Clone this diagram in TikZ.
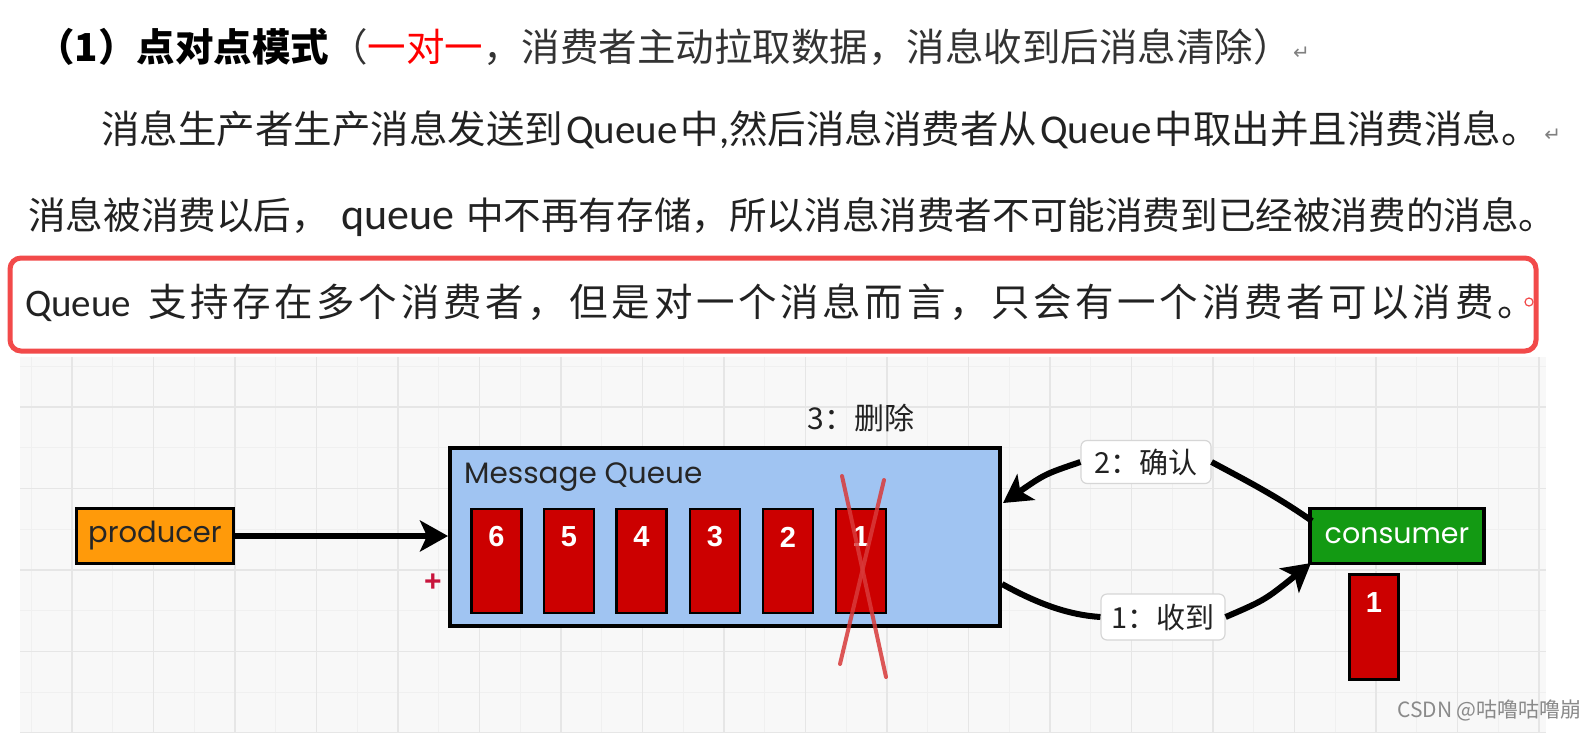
\documentclass[tikz,border=0pt]{standalone}
\usepackage{fontspec}
\setmainfont{Carlito}
\newfontfamily\cjk{Noto Sans CJK SC}
\newfontfamily\cjkls{Noto Sans CJK SC}[LetterSpace=9.5]
\newfontfamily\hand{Poppins}
\newfontfamily\arial{Liberation Sans}
\newfontfamily\dejavu{DejaVu Sans}
\usetikzlibrary{arrows.meta,calc}
\definecolor{txt}{HTML}{222222}
\definecolor{txtgray}{HTML}{333333}
\definecolor{boxred}{HTML}{F24A4A}
\definecolor{gridbg}{HTML}{F8F8F8}
\definecolor{gridmin}{HTML}{F0F0F0}
\definecolor{gridmaj}{HTML}{E6E6E6}
\definecolor{prodorange}{HTML}{FF9A0A}
\definecolor{queueblue}{HTML}{A0C4F2}
\definecolor{blockred}{HTML}{CC0000}
\definecolor{consgreen}{HTML}{139A13}
\definecolor{xred}{HTML}{D83A3A}
\definecolor{plusred}{HTML}{C8143C}
\definecolor{lblborder}{HTML}{D6D6D6}
\definecolor{wmgray}{HTML}{8A8A8A}
\newcommand{\latq}[1]{{\fontsize{41}{42}\selectfont #1}}
\newcommand{\latqs}[1]{{\fontsize{39}{40}\selectfont #1}}
\newcommand{\latql}[1]{{\fontsize{44}{45}\selectfont #1}}
\tikzset{
  line1/.style={anchor=base west, inner sep=0pt, text=txtgray},
  bodyline/.style={anchor=base west, inner sep=0pt, text=txt},
  retmark/.style={anchor=base west, inner sep=0pt, text=gray, font=\dejavu\fontsize{20}{20}\selectfont},
  hbox/.style={draw=black, line width=3.5pt, inner sep=0pt},
  blk/.style={draw=black, line width=2.2pt, fill=blockred, minimum width=50pt, minimum height=104pt, inner sep=0pt},
  num/.style={text=white, font=\arial\bfseries\fontsize{29}{30}\selectfont, inner sep=0pt},
  conn/.style={draw=black, line width=6pt},
  tip/.style={-{Stealth[length=28pt,width=31pt,inset=7pt]}},
  lbl/.style={draw=lblborder, line width=1.2pt, fill=white, rounded corners=6pt, inner sep=0pt,
    font=\cjk\fontsize{29}{30}\selectfont, text=txt},
  xline/.style={draw=xred, line width=4pt, opacity=0.85, line cap=round}
}
\begin{document}
\begin{tikzpicture}[x=1pt,y=-1pt]
\useasboundingbox (0,0) rectangle (1584,732);
\fill[white] (0,0) rectangle (1584,732);

% ---------- text ----------
\node[line1] (l1) at (36,61) {\cjk\fontsize{38.5}{40}\selectfont{\bfseries\color{black}（1）点对点模式}（{\color{red}一对一}，消费者主动拉取数据，消息收到后消息清除）};
\node[retmark] (r1) at ($(l1.base east)+(1,-2)$) {↵};

\node[bodyline] (l2) at (101,143) {\fontsize{38.5}{40}\selectfont{\cjk 消息生产者生产消息发送到}\hspace{3pt}\latq{Queue}\hspace{3pt}{\cjk 中}\latq{,}{\cjk 然后消息消费者从}\hspace{3pt}\latq{Queue}\hspace{3pt}{\cjk 中取出并且消费消息。}};
\node[retmark] (r2) at ($(l2.base east)+(4,-2)$) {↵};

\node[bodyline] (l3) at (28,229) {\fontsize{37.6}{40}\selectfont{\cjk 消息被消费以后，}\hspace{12pt}\latql{queue}\hspace{12pt}{\cjk 中不再有存储，所以消息消费者不可能消费到已经被消费的消息。}};

\node[bodyline] (l4) at (25,316) {\fontsize{38.5}{40}\selectfont\latqs{Queue}\hspace{17pt}{\cjkls 支持存在多个消费者，但是对一个消息而言，只会有一个消费者可以消费。}};
\draw[boxred, line width=1.2pt] (1529,302) circle (4pt);
\draw[boxred, line width=5pt, rounded corners=11pt] (10,258) rectangle (1536,351);

% ---------- grid background ----------
\fill[gridbg] (20,357) rectangle (1546,732);
\begin{scope}
\clip (20,357) rectangle (1546,732);
\foreach \k in {0,...,37} {
  \draw[gridmin, line width=1pt] (31.25+40.75*\k,357) -- (31.25+40.75*\k,732);
}
\foreach \k in {0,...,9} {
  \draw[gridmin, line width=1pt] (20,366.25+40.75*\k) -- (1546,366.25+40.75*\k);
}
\foreach \k in {0,...,18} {
  \draw[gridmaj, line width=1.3pt] (72+81.5*\k,357) -- (72+81.5*\k,732);
}
\foreach \k in {0,...,4} {
  \draw[gridmaj, line width=1.3pt] (20,407+81.5*\k) -- (1546,407+81.5*\k);
}
\end{scope}

% ---------- diagram ----------
\node[hbox, fill=prodorange, minimum width=157pt, minimum height=55pt,
  font=\hand\fontsize{29}{30}\selectfont, text=black!85] (producer) at (155,536) {producer};

\node[hbox, fill=queueblue, minimum width=550pt, minimum height=178pt] (queue) at (725,537) {};
\node[anchor=west, inner sep=0pt, text=black!85, font=\hand\fontsize{29.5}{30}\selectfont] (qtitle) at (464,477) {Message Queue};

\node[blk] (b6) at (496.5,561) {};
\node[blk] (b5) at (569,561) {};
\node[blk] (b4) at (641.5,561) {};
\node[blk] (b3) at (715,561) {};
\node[blk] (b2) at (788,561) {};
\node[blk] (b1) at (861,561) {};
\node[num] (n6) at (496.5,537) {6};
\node[num] (n5) at (569,537) {5};
\node[num] (n4) at (641.5,537) {4};
\node[num] (n3) at (715,537) {3};
\node[num] (n2) at (788,537) {2};
\node[num] (n1) at (861,537) {1};

\coordinate (x1a) at (842,476);
\coordinate (x1b) at (886,677);
\coordinate (x2a) at (884,480);
\coordinate (x2b) at (840,664);
\draw[xline] (x1a) -- (x1b);
\draw[xline] (x2a) -- (x2b);

\node[inner sep=0pt, text=plusred, font=\arial\bfseries\fontsize{30}{30}\selectfont] (plus) at (433,583) {+};

\node[inner sep=0pt, text=txt, font=\cjk\fontsize{30}{30}\selectfont] (del) at (861,418) {3：删除};

\node[hbox, fill=consgreen, minimum width=174pt, minimum height=55pt,
  font=\hand\fontsize{28.5}{30}\selectfont, text=white] (consumer) at (1397,536) {consumer};
\node[blk, minimum width=49pt, minimum height=105pt] (cb) at (1374,627) {};
\node[num] (cn) at (1374,603) {1};

\node[lbl, minimum width=130pt, minimum height=43pt] (lab2) at (1146,462) {2：确认};
\node[lbl, minimum width=124pt, minimum height=46pt] (lab1) at (1163,617) {1：收到};

\coordinate (ptip) at (448,536);
\draw[conn, tip] (producer.east) -- (ptip);

\coordinate (c2s) at (1312,521);
\coordinate (q2t) at (1003,503);
\draw[conn] (c2s) .. controls (1275,495) and (1245,480) .. (lab2.east);
\draw[conn, tip] (lab2.west) .. controls (1045,474) .. (q2t);

\coordinate (q1s) at (1002,584);
\coordinate (c1t) at (1311,563);
\draw[conn] (q1s) .. controls (1040,605) and (1070,615) .. (lab1.west);
\draw[conn, tip] (lab1.east) .. controls (1265,600) .. (c1t);

\node[anchor=base west, inner sep=0pt, text=wmgray, font=\cjk\fontsize{21}{22}\selectfont] (wm) at (1397,717) {CSDN @咕噜咕噜崩};
\end{tikzpicture}
\end{document}
